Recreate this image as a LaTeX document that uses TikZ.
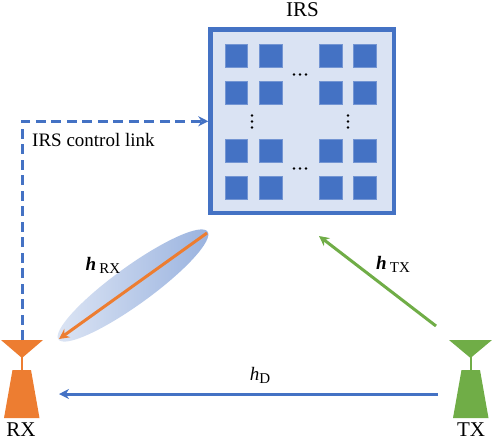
\documentclass[tikz,border=0pt]{standalone}
\usepackage{fontspec}
\setmainfont{Liberation Serif}
\usetikzlibrary{arrows.meta}
\definecolor{irsblue}{RGB}{68,114,196}
\definecolor{irspale}{RGB}{218,227,243}
\definecolor{rxorange}{RGB}{237,125,49}
\definecolor{txgreen}{RGB}{112,173,71}
\newcommand{\chan}[2]{#1\raisebox{-3pt}{\fontsize{15}{17}\selectfont #2}}
\tikzset{
  lab/.style={font=\fontsize{19}{22}\selectfont, inner sep=0pt},
  biglab/.style={font=\fontsize{21}{24}\selectfont, inner sep=0pt},
  link/.style={line width=3pt, -{Stealth[length=10pt,width=10pt]}},
  element/.style={fill=irsblue, draw=irsblue!75, line width=0.5pt, minimum size=22.5pt, inner sep=0pt},
  dotnode/.style={circle, fill=black, minimum size=2.6pt, inner sep=0pt},
}
\begin{document}
\begin{tikzpicture}[x=1pt,y=-1pt,>=stealth]
\useasboundingbox (0,0) rectangle (492,440);
\node[draw=irsblue, fill=irspale, line width=4.5pt, minimum size=183.5pt, inner sep=0pt] (irs) at (302.25,121.25) {};
\node[biglab] (irstext) at (302.5,10) {IRS};
% elements of the panel
\foreach \x in {236,270.5,330.5,364.5} {
  \foreach \y in {55.5,92.5,150.5,187.5} {
    \node[element] at (\x,\y) {};
  }
}
\foreach \x/\y [count=\i] in {300/74.5,300/168.5} {
  \node[dotnode] (h\i a) at (\x-6,\y) {};
  \node[dotnode] (h\i b) at (\x,\y) {};
  \node[dotnode] (h\i c) at (\x+6,\y) {};
}
\foreach \x/\y [count=\i] in {252/121.5,348/121.5} {
  \node[dotnode] (v\i a) at (\x,\y-6) {};
  \node[dotnode] (v\i b) at (\x,\y) {};
  \node[dotnode] (v\i c) at (\x,\y+6) {};
}
% beam
\shade[left color=irsblue!18, right color=irsblue!55, rotate around={35.9:(133,285.5)}] (133,285.5) ellipse (92 and 19);
% antennas
\fill[rxorange] (1,340) -- (43,340) -- (22,358) -- cycle;
\draw[rxorange, line width=2pt] (22,357) -- (22,371);
\fill[rxorange] (12.5,370) -- (31,370) -- (39.5,418) -- (4,418) -- cycle;
\fill[txgreen] (449,340) -- (492,340) -- (470.5,358) -- cycle;
\draw[txgreen, line width=2pt] (470.5,357) -- (470.5,371);
\fill[txgreen] (461.5,370) -- (480,370) -- (488.5,418) -- (453,418) -- cycle;
\node[biglab] (rx) at (21,429.5) {RX};
\node[biglab] (tx) at (471,429.5) {TX};
\coordinate (rxtop) at (22,340);
\coordinate (beamtop) at (207,233);
\coordinate (beamend) at (59,339);
\coordinate (txout) at (436,326);
\coordinate (irsin) at (319,236);
\coordinate (txleft) at (438,394);
\coordinate (rxright) at (59,394);
% links
\draw[link, irsblue, dash pattern=on 10pt off 5.5pt] (rxtop) |- (irs.west);
\draw[link, rxorange] (beamtop) -- (beamend);
\draw[link, txgreen] (txout) -- (irsin);
\draw[link, irsblue] (txleft) -- (rxright);
\node[lab, anchor=west] (ctrl) at (32,140) {IRS control link};
\node[lab] (hrx) at (103,265) {\chan{\textbf{\textit{h}}\,}{RX}};
\node[lab] (htx) at (393,264) {\chan{\textbf{\textit{h}}\,}{TX}};
\node[lab] (hd) at (260,375) {\chan{\textit{h}}{D}};
\end{tikzpicture}
\end{document}
